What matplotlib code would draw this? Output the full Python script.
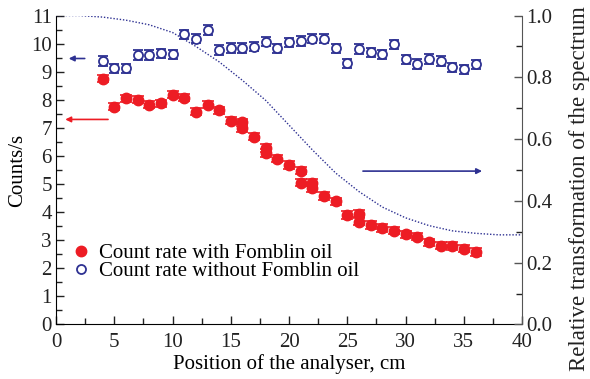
import matplotlib
matplotlib.use("Agg")
import matplotlib.pyplot as plt
from matplotlib.lines import Line2D
from matplotlib.ticker import MultipleLocator

plt.rcParams['font.family'] = ['Liberation Serif', 'DejaVu Serif']

# With Fomblin oil (red, filled)
x_with = [4, 5, 6, 7, 8, 9, 10, 11, 12, 13, 14, 15, 16, 16, 17, 18, 18, 19, 20,
          21, 21, 22, 22, 23, 24, 25, 26, 26, 27, 28, 29, 30, 31, 32, 33, 34, 35, 36]
y_with = [8.75, 7.75, 8.05, 8.0, 7.82, 7.87, 8.18, 8.07, 7.58, 7.83, 7.62, 7.25, 7.2, 7.0,
          6.68, 6.28, 6.1, 5.9, 5.68, 5.47, 5.05, 5.05, 4.85, 4.57, 4.38, 3.9, 3.95, 3.66,
          3.54, 3.43, 3.34, 3.21, 3.13, 2.92, 2.8, 2.79, 2.7, 2.58]
err_with = 0.13

# Without Fomblin oil (blue, open)
x_without = [4, 5, 6, 7, 8, 9, 10, 11, 12, 13, 14, 15, 16, 17, 18, 19, 20, 21, 22, 23,
             24, 25, 26, 27, 28, 29, 30, 31, 32, 33, 34, 35, 36]
y_without = [9.38, 9.12, 9.12, 9.59, 9.59, 9.65, 9.62, 10.33, 10.18, 10.48, 9.77, 9.85,
             9.85, 9.89, 10.07, 9.83, 10.04, 10.1, 10.18, 10.18, 9.83, 9.3, 9.8, 9.69,
             9.62, 9.97, 9.44, 9.27, 9.45, 9.39, 9.15, 9.08, 9.26]
err_without = 0.17

# Relative transformation of the spectrum (dotted curve, right axis)
x_curve = [0, 2, 4, 6, 8, 10, 12, 14, 16, 18, 20, 22, 24, 26, 28, 30, 32, 34, 36, 38, 40]
y_curve = [1.0, 1.0, 0.995, 0.985, 0.97, 0.945, 0.9, 0.85, 0.79, 0.725, 0.645, 0.565,
           0.49, 0.43, 0.38, 0.345, 0.32, 0.303, 0.295, 0.29, 0.29]

RED = '#ed1c24'
BLUE = '#2e3192'
FS = 15

fig = plt.figure(figsize=(5.9, 3.79), dpi=100)
ax = fig.add_axes([0.095, 0.144, 0.79, 0.815])
ax2 = ax.twinx()

ax.errorbar(x_with, y_with, yerr=err_with, fmt='o', color=RED, ms=7.5,
            ecolor=RED, elinewidth=1.2, capsize=4.5, capthick=1.2, zorder=3)
ax.errorbar(x_without, y_without, yerr=err_without, fmt='o', mfc='white', mec=BLUE,
            mew=1.3, ms=6.5, ecolor=BLUE, elinewidth=1.2, capsize=3.5, capthick=1.2, zorder=3)
ax2.plot(x_curve, y_curve, linestyle=(0, (1, 1.3)), color=BLUE, lw=1.0)

ax.set_xlim(0, 40)
ax.set_ylim(0, 11)
ax2.set_ylim(0, 1.0)
ax2.set_yticks([0.0, 0.2, 0.4, 0.6, 0.8, 1.0])
ax2.set_yticklabels(['0.0', '0.2', '0.4', '0.6', '0.8', '1.0'])
ax2.yaxis.set_minor_locator(MultipleLocator(0.1))
ax.set_xticks(range(0, 41, 5))
ax.xaxis.set_minor_locator(MultipleLocator(2.5))
ax.set_yticks(range(0, 12))
ax.yaxis.set_minor_locator(MultipleLocator(0.5))

for a in (ax, ax2):
    a.spines['top'].set_visible(False)
    a.tick_params(which='both', direction='in', labelsize=FS, colors='#222222', pad=3)
    a.tick_params(which='major', length=6, width=1)
    a.tick_params(which='minor', length=4, width=1)
ax.tick_params(axis='x', pad=6)
ax.spines['right'].set_visible(False)
ax2.spines['left'].set_visible(False)
ax2.spines['bottom'].set_visible(False)
ax2.spines['right'].set_color('#555555')
ax2.tick_params(axis='y', colors='#555555', labelcolor='#222222')

ax.set_xlabel('Position of the analyser, cm', fontsize=FS, labelpad=2)
ax.set_ylabel('Counts/s', fontsize=FS, labelpad=3)
fig.text(0.983, 0.503, 'Relative transformation of the spectrum', fontsize=16.5,
         rotation=90, ha='center', va='center', color='#222222')

# arrows
ax.annotate('', xy=(0.85, 9.47), xytext=(2.7, 9.47),
            arrowprops=dict(arrowstyle='-|>', color=BLUE, lw=1.2, mutation_scale=8))
ax.annotate('', xy=(0.55, 7.3), xytext=(4.7, 7.3),
            arrowprops=dict(arrowstyle='-|>', color=RED, lw=1.2, mutation_scale=8))
ax.annotate('', xy=(36.8, 5.46), xytext=(26.1, 5.46),
            arrowprops=dict(arrowstyle='-|>', color=BLUE, lw=1.2, mutation_scale=8))

handles = [Line2D([], [], marker='o', ls='none', color=RED, ms=7.5),
           Line2D([], [], marker='o', ls='none', mfc='white', mec=BLUE, mew=1.3, ms=6.5)]
ax.legend(handles, ['Count rate with Fomblin oil', 'Count rate without Fomblin oil'],
          loc='upper left', bbox_to_anchor=(0.0, 0.31), frameon=False, fontsize=FS,
          handlelength=1.0, handletextpad=0.35, labelspacing=-0.05, borderaxespad=0.3)

fig.savefig('out.png', dpi=100)
